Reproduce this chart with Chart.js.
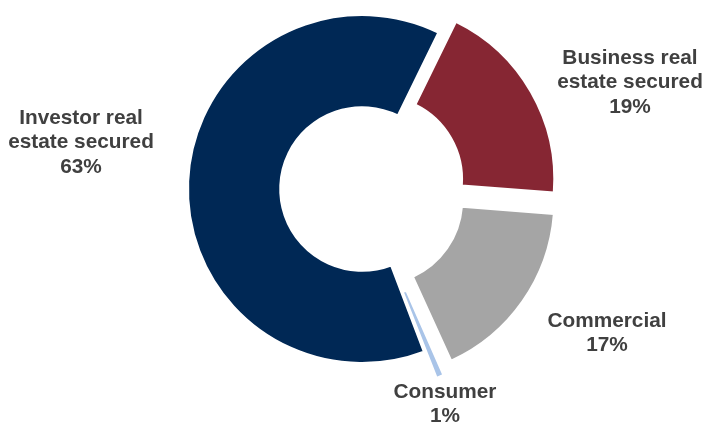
<!DOCTYPE html>
<html>
<head>
<meta charset="utf-8">
<script src="https://cdn.jsdelivr.net/npm/chart.js@4"></script>
<style>
html,body{margin:0;padding:0;background:#fff;}
#wrap{position:relative;width:710px;height:430px;}
</style>
</head>
<body>
<div id="wrap"><canvas id="c" width="710" height="430"></canvas></div>
<script>
const categories = ["Business real estate secured", "Commercial", "Consumer", "Investor real estate secured"];
const shares = [19, 17, 1, 63];
const labelLines = [
  ["Business real", "estate secured", "19%"],
  ["Commercial", "17%"],
  ["Consumer", "1%"],
  ["Investor real", "estate secured", "63%"]
];
const colors = ["#862633", "#a5a5a5", "#a9c4e8", "#002855"];
const explode = [78, 78, 60, 0];
const labelPos = [
  {x: 630, y: 58},
  {x: 607, y: 321},
  {x: 445, y: 392},
  {x: 81, y: 118}
];

const labelPlugin = {
  id: 'sliceLabels',
  afterDraw(chart) {
    const ctx = chart.ctx;
    ctx.save();
    ctx.font = 'bold 20.8px "Liberation Sans", Arial, sans-serif';
    ctx.fillStyle = '#404040';
    ctx.textAlign = 'center';
    ctx.textBaseline = 'middle';
    labelLines.forEach((lines, i) => {
      const p = labelPos[i];
      lines.forEach((t, j) => ctx.fillText(t, p.x, p.y + j * 24.5));
    });
    ctx.restore();
  }
};

new Chart(document.getElementById('c'), {
  type: 'doughnut',
  data: {
    labels: categories,
    datasets: [{
      data: shares,
      backgroundColor: colors,
      borderColor: '#ffffff',
      borderWidth: 2,
      hoverBorderWidth: 2,
      offset: explode,
      hoverOffset: 0
    }]
  },
  options: {
    responsive: false,
    animation: false,
    events: [],
    rotation: 26,
    cutout: '47%',
    radius: 174,
    layout: {padding: {left: 100, right: 86, top: 4, bottom: 56}},
    plugins: {legend: {display: false}, tooltip: {enabled: false}}
  },
  plugins: [labelPlugin]
});
</script>
</body>
</html>
